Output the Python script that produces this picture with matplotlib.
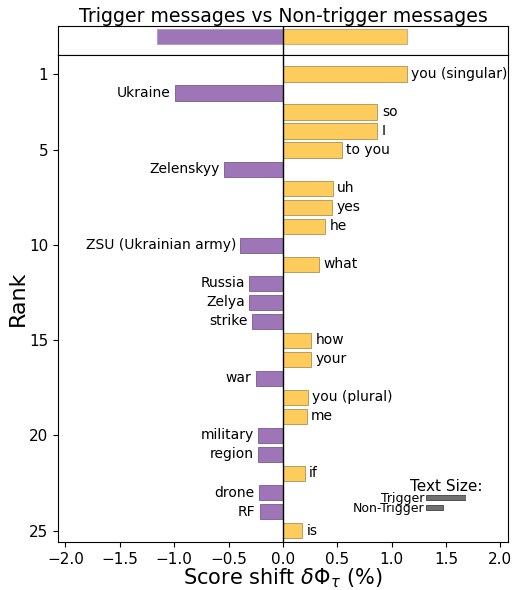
import numpy as np
import matplotlib
matplotlib.use('Agg')
import matplotlib.pyplot as plt

# Word shift data: rank order, words and score shifts (%)
words = ['you (singular)', 'Ukraine', 'so', 'I', 'to you', 'Zelenskyy', 'uh', 'yes', 'he',
         'ZSU (Ukrainian army)', 'what', 'Russia', 'Zelya', 'strike', 'how', 'your', 'war',
         'you (plural)', 'me', 'military', 'region', 'if', 'drone', 'RF', 'is']
shifts = [1.14, -0.99, 0.87, 0.87, 0.54, -0.54, 0.46, 0.45, 0.39,
          -0.39, 0.33, -0.31, -0.31, -0.28, 0.26, 0.26, -0.25,
          0.23, 0.22, -0.23, -0.23, 0.20, -0.22, -0.21, 0.18]
total_neg = -1.16
total_pos = 1.14
size_labels = ['Trigger', 'Non-Trigger']
size_vals = [1.0, 0.42]

purple = '#9E75B6'
yellow = '#FECC5C'

fig = plt.figure(figsize=(5.12, 5.9), dpi=100)
ax_top = fig.add_axes([0.113, 0.9068, 0.879, 0.049])
ax = fig.add_axes([0.113, 0.0814, 0.879, 0.8254])

xlim = (-2.07, 2.07)

# Top panel: totals
ax_top.barh([0], [total_neg], height=0.8, color=purple, edgecolor='#b0a0c0', linewidth=0.8)
ax_top.barh([0], [total_pos], height=0.8, color=yellow, edgecolor='#c8b080', linewidth=0.8)
ax_top.axvline(0, color='black', linewidth=1)
ax_top.set_xlim(*xlim)
ax_top.set_ylim(0.99, -0.56)
ax_top.set_xticks([])
ax_top.set_yticks([])
ax_top.set_title('Trigger messages vs Non-trigger messages', fontsize=13.6, pad=3)

# Main panel
ranks = np.arange(1, len(words) + 1)
colors = [yellow if s > 0 else purple for s in shifts]
edges = ['#b09050' if s > 0 else '#7a5a90' for s in shifts]
ax.barh(ranks, shifts, height=0.8, color=colors, edgecolor=edges, linewidth=0.6)
ax.axvline(0, color='black', linewidth=1)

for r, w, s in zip(ranks, words, shifts):
    if s > 0:
        ax.text(s + 0.04, r, w, ha='left', va='center', fontsize=10)
    else:
        ax.text(s - 0.04, r, w, ha='right', va='center', fontsize=10)

ax.set_xlim(*xlim)
ax.set_ylim(25.6, 0)
ax.set_yticks([1, 5, 10, 15, 20, 25])
ax.set_xticks(np.arange(-2.0, 2.01, 0.5))
ax.tick_params(labelsize=11)
ax.set_ylabel('Rank', fontsize=16, labelpad=1)
ax.set_xlabel(r'Score shift $\delta\Phi_{\tau}$ (%)', fontsize=15, labelpad=0)

# Text size inset
fig.text(0.871, 0.176, 'Text Size:', ha='center', va='center', fontsize=11)
ax_in = fig.add_axes([426 / 512, 0.132, 40 / 512, 0.0339])
ax_in.barh([0, 1], size_vals, height=0.5, color='#707070', edgecolor='#404040', linewidth=0.6)
ax_in.set_xlim(0, 1)
ax_in.set_ylim(1.5, -0.5)
ax_in.set_yticks([0, 1])
ax_in.set_yticklabels(size_labels, fontsize=9)
ax_in.tick_params(length=0, pad=1)
ax_in.set_xticks([])
for sp in ax_in.spines.values():
    sp.set_visible(False)
ax_in.patch.set_alpha(0)

fig.savefig('out.png', dpi=100)
